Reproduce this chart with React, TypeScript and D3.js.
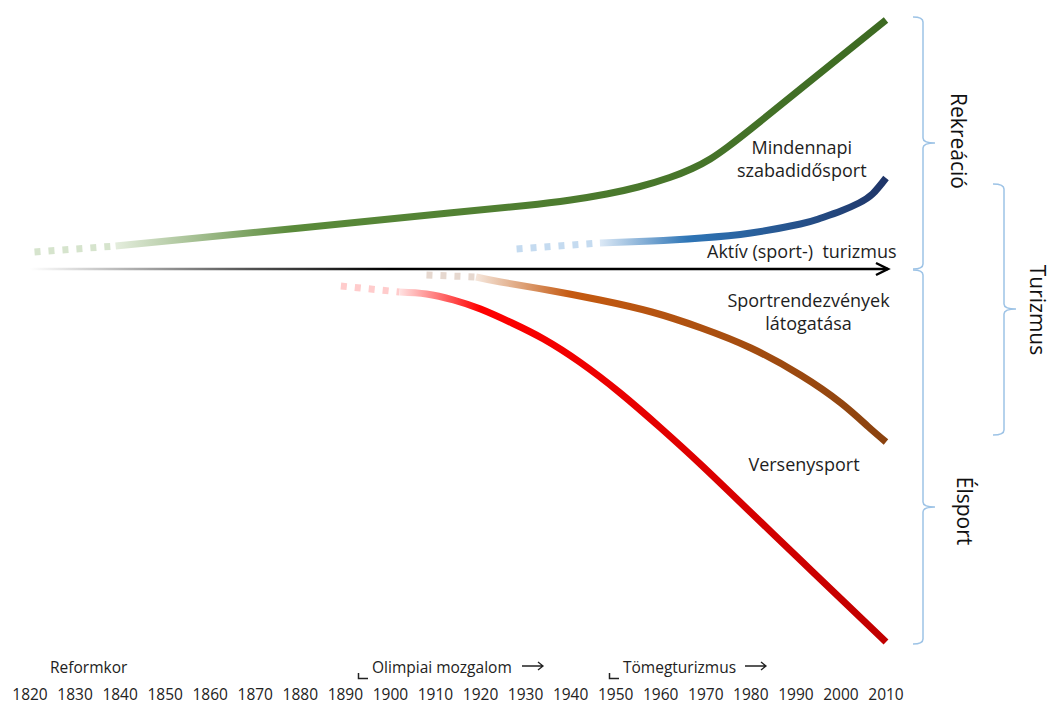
import React from "react";
import * as d3 from "d3";

// ---------- data ----------
const YEAR_TICKS = [1820, 1830, 1840, 1850, 1860, 1870, 1880, 1890, 1900, 1910, 1920, 1930, 1940, 1950, 1960, 1970, 1980, 1990, 2000, 2010];

// Mindennapi szabadidősport (green)
const greenDashYears = [1821, 1839];
const greenDashVals = [6.8, 9.2];
const greenYears = [1839, 1880, 1913, 1930, 1940, 1948, 1955, 1962, 1967, 1971, 1975, 1980, 1991, 2010];
const greenVals = [9.2, 16.4, 22.4, 25.4, 27.6, 30.0, 32.8, 36.6, 40.2, 44.0, 49.0, 56.0, 72.0, 99.6];

// Aktív (sport-) turizmus (blue)
const blueDashYears = [1928, 1946.5];
const blueDashVals = [8, 10.4];
const blueYears = [1946.5, 1958, 1969, 1980, 1991, 1995, 2000, 2004, 2007, 2010];
const blueVals = [10.4, 11.2, 12.4, 14.4, 18, 20, 23.2, 26.4, 30, 36.4];

// Sportrendezvények látogatása (brown)
const brownDashYears = [1908, 1919];
const brownDashVals = [-2.4, -3.2];
const brownYears = [1919, 1924.5, 1935.5, 1946.5, 1958, 1969, 1980, 1991, 2000, 2006, 2010];
const brownVals = [-3.2, -5.2, -8.6, -12.4, -17.2, -23.6, -31.6, -42.4, -53.6, -63.0, -69.2];

// Versenysport (red)
const redDashYears = [1889, 1902];
const redDashVals = [-6.8, -9.2];
const redYears = [1902, 1908, 1914, 1920, 1927, 1934, 1942, 1951, 1960, 1969, 1980, 1991, 2002, 2010];
const redVals = [-9.2, -10.0, -12.4, -16.0, -21.6, -28.0, -37.2, -49.6, -63.6, -78.4, -97.4, -116.4, -135.4, -149.2];

const seriesLabels = [
  { lines: ["Mindennapi", "szabadidősport"], year: 1991.3, val: [46, 37] },
  { lines: ["Aktív (sport-)\u00a0 turizmus"], year: 1991.3, val: [4.4] },
  { lines: ["Sportrendezvények", "látogatása"], year: 1992.8, val: [-15.2, -24.4] },
  { lines: ["Versenysport"], year: 1991.8, val: [-80.8] },
];

const FONT = "'Open Sans', 'Noto Sans', sans-serif";

type Series = {
  id: string;
  dashYears: number[];
  dashVals: number[];
  years: number[];
  vals: number[];
  dashColor: string;
  light: string;
  mid: string;
  dark: string;
  fadeTo: number;
};

const SERIES: Series[] = [
  { id: "green", dashYears: greenDashYears, dashVals: greenDashVals, years: greenYears, vals: greenVals, dashColor: "#d6e4cd", light: "#e4eddd", mid: "#5a8a3a", dark: "#3d6a22", fadeTo: 1878 },
  { id: "blue", dashYears: blueDashYears, dashVals: blueDashVals, years: blueYears, vals: blueVals, dashColor: "#c5dbf0", light: "#dce9f6", mid: "#2e75b6", dark: "#1f3568", fadeTo: 1966 },
  { id: "brown", dashYears: brownDashYears, dashVals: brownDashVals, years: brownYears, vals: brownVals, dashColor: "#e6d8cf", light: "#f5e6db", mid: "#c55a11", dark: "#8a420f", fadeTo: 1940 },
  { id: "red", dashYears: redDashYears, dashVals: redDashVals, years: redYears, vals: redVals, dashColor: "#ffcccc", light: "#ffe2e2", mid: "#ff0000", dark: "#c00000", fadeTo: 1920 },
];

const W = 1051;
const H = 704;

function brace(xEnd: number, xBar: number, xTip: number, yTop: number, yMid: number, yBot: number) {
  const r = 5;
  return [
    `M${xEnd},${yTop}`,
    `Q${xBar},${yTop} ${xBar},${yTop + r}`,
    `L${xBar},${yMid - r}`,
    `Q${xBar},${yMid} ${xTip},${yMid}`,
    `Q${xBar},${yMid} ${xBar},${yMid + r}`,
    `L${xBar},${yBot - r}`,
    `Q${xBar},${yBot} ${xEnd},${yBot}`,
  ].join(" ");
}

export default function App() {
  const x = d3.scaleLinear().domain([1820, 2010]).range([30, 886]);
  const y = d3.scaleLinear().domain([-150, 100]).range([644, 19]);

  const gen = d3
    .line<[number, number]>()
    .x((d) => x(d[0]))
    .y((d) => y(d[1]))
    .curve(d3.curveNatural);

  const axisY = y(0);
  const axisX0 = x(1820);
  const axisX1 = x(2010) + 2;

  return (
    <svg width={W} height={H} style={{ display: "block", position: "absolute", left: 0, top: 0, background: "#fff" }} fontFamily={FONT}>
      <defs>
        <linearGradient id="axisGrad" gradientUnits="userSpaceOnUse" x1={axisX0} x2={x(1900)} y1={0} y2={0}>
          <stop offset="0" stopColor="#ffffff" />
          <stop offset="0.6" stopColor="#555555" />
          <stop offset="1" stopColor="#000000" />
        </linearGradient>
        {SERIES.map((s) => {
          const x1 = x(s.years[0]);
          const x2 = x(s.years[s.years.length - 1]);
          const f = (x(s.fadeTo) - x1) / (x2 - x1);
          return (
            <linearGradient key={s.id} id={`g-${s.id}`} gradientUnits="userSpaceOnUse" x1={x1} x2={x2} y1={0} y2={0}>
              <stop offset="0" stopColor={s.light} />
              <stop offset={f} stopColor={s.mid} />
              <stop offset="1" stopColor={s.dark} />
            </linearGradient>
          );
        })}
      </defs>

      {/* main axis arrow */}
      <line x1={axisX0} x2={axisX1} y1={axisY} y2={axisY} stroke="url(#axisGrad)" strokeWidth={2.5} />
      <path
        d={`M${axisX1 - 12},${axisY - 6} L${axisX1},${axisY} L${axisX1 - 12},${axisY + 6}`}
        fill="none"
        stroke="#000"
        strokeWidth={2.5}
      />

      {/* series */}
      {SERIES.map((s) => {
        const dash = s.dashYears.map((yr, i) => [yr, s.dashVals[i]] as [number, number]);
        const solid = s.years.map((yr, i) => [yr, s.vals[i]] as [number, number]);
        return (
          <g key={s.id}>
            <path d={gen(dash) || ""} fill="none" stroke={s.dashColor} strokeWidth={7} strokeDasharray="6,8" />
            <path d={gen(solid) || ""} fill="none" stroke={`url(#g-${s.id})`} strokeWidth={7} />
          </g>
        );
      })}

      {/* series labels */}
      {seriesLabels.map((l, i) => (
        <g key={i}>
          {l.lines.map((t, j) => (
            <text key={j} x={x(l.year)} y={y(l.val[j])} textAnchor="middle" fontSize={18} fill="#1e1e1e">
              {t}
            </text>
          ))}
        </g>
      ))}

      {/* braces */}
      <path d={brace(913, 923, 935, 17, 143, 269)} fill="none" stroke="#9dc3e6" strokeWidth={1.5} />
      <path d={brace(913, 923, 935, 270, 507, 644)} fill="none" stroke="#9dc3e6" strokeWidth={1.5} />
      <path d={brace(993, 1004, 1016, 184, 309, 435)} fill="none" stroke="#9dc3e6" strokeWidth={1.5} />

      <text transform="translate(951,141) rotate(90)" textAnchor="middle" fontSize={21} fill="#111">Rekreáció</text>
      <text transform="translate(1030,310) rotate(90)" textAnchor="middle" fontSize={21} fill="#111">Turizmus</text>
      <text transform="translate(957,511) rotate(90)" textAnchor="middle" fontSize={21} fill="#111">Élsport</text>

      {/* era annotations */}
      <text x={50} y={673} fontSize={15.5} fill="#222">Reformkor</text>

      <path d="M358.5,673 L358.5,678.5 L368,678.5" fill="none" stroke="#222" strokeWidth={1.5} />
      <text x={372} y={673} fontSize={15.5} fill="#222">Olimpiai mozgalom</text>
      <path d="M522,666 L543,666 M538,662 L543,666 L538,670" fill="none" stroke="#222" strokeWidth={1.3} />

      <path d="M609.5,673 L609.5,678.5 L619,678.5" fill="none" stroke="#222" strokeWidth={1.5} />
      <text x={623} y={673} fontSize={15.5} fill="#222">Tömegturizmus</text>
      <path d="M745,666 L766,666 M761,662 L766,666 L761,670" fill="none" stroke="#222" strokeWidth={1.3} />

      {/* year ticks */}
      {YEAR_TICKS.map((yr) => (
        <text key={yr} x={x(yr)} y={700} textAnchor="middle" fontSize={15.5} fill="#222">
          {yr}
        </text>
      ))}
    </svg>
  );
}
